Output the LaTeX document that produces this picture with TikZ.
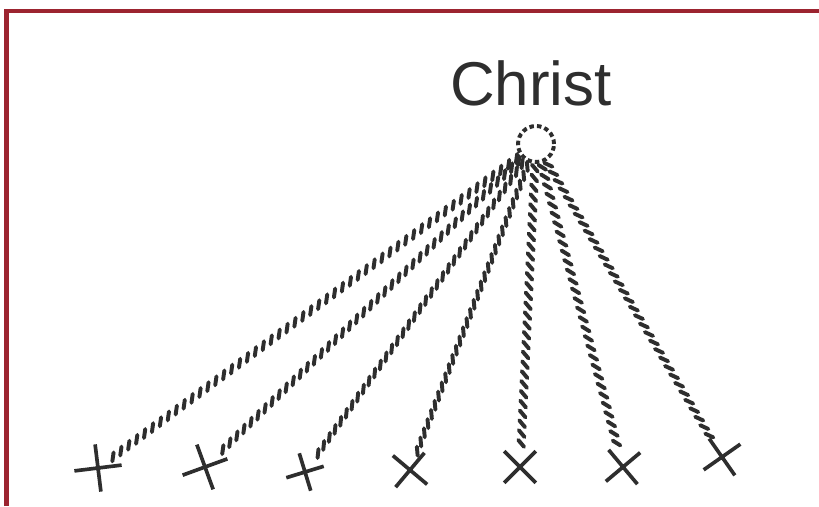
\documentclass[tikz,border=0pt]{standalone}
\usepackage{fontspec}
\setmainfont{Liberation Sans}
\usepackage{xcolor}
\usepackage{tikz}
\usetikzlibrary{shapes.misc,decorations.markings}
\definecolor{ink}{HTML}{2E2E2E}
\definecolor{frame}{HTML}{9C2430}
\tikzset{
  every node/.style={text=ink},
  rim/.style={draw=frame,line width=3pt},
  title/.style={font=\fontsize{44}{44}\selectfont,inner sep=0pt},
  halo/.style={circle,draw=ink,line width=2.8pt,dash pattern=on 3.2pt off 2.2pt,
               minimum size=0.9cm,inner sep=0pt},
  xmark/.style={cross out,draw=ink,line width=2.6pt,minimum size=0.7cm,inner sep=0pt},
  hatch/.style={decoration={markings,
      mark=between positions 3pt and 1 step 7pt with {\pgftransformresetnontranslations
        \draw[ink,line width=2.8pt,line cap=round] (#1:-3.2pt) -- (#1:3.2pt);}},
    decorate},
}
\begin{document}
\begin{tikzpicture}[x=0.025cm,y=0.025cm]
\useasboundingbox[fill=white] (0,0) rectangle (819,506);
\draw[rim] (6.5,0) -- (6.5,495) -- (819,495);

% the centre
\node[title] (christ) at (531,423) {Christ};
\node[halo] (halo) at (536,362) {};

% the marks below
\node[xmark,minimum size=0.75cm,rotate=52] (x1) at (98,38) {};
\node[xmark,minimum size=0.75cm,rotate=65] (x2) at (205,39) {};
\node[xmark,minimum size=0.6cm,rotate=62] (x3) at (305,34) {};
\node[xmark,rotate=5] (x4) at (410,36) {};
\node[xmark] (x5) at (520,39) {};
\node[xmark,rotate=-5] (x6) at (623,39) {};
\node[xmark,rotate=-10] (x7) at (722,49) {};

% hatched rays
\draw[hatch=82] (halo) -- (x1);
\draw[hatch=82] (halo) -- (x2);
\draw[hatch=84] (halo) -- (x3);
\draw[hatch=95] (halo) -- (x4);
\draw[hatch=130] (halo) -- (x5);
\draw[hatch=148] (halo) -- (x6);
\draw[hatch=155] (halo) -- (x7);
\end{tikzpicture}
\end{document}
